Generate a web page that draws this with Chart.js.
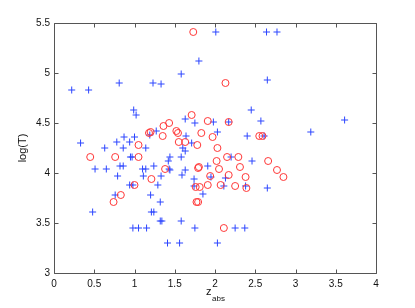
<!DOCTYPE html>
<html>
<head>
<meta charset="utf-8">
<script src="https://cdn.jsdelivr.net/npm/chart.js"></script>
<style>
  html, body { margin: 0; padding: 0; background: #fff; }
  #wrap { width: 415px; height: 308px; }
</style>
</head>
<body>
<div id="wrap"><canvas id="scatter"></canvas></div>
<script>
// axis ticks
const xTickValues = [0, 0.5, 1, 1.5, 2, 2.5, 3, 3.5, 4];
const yTickValues = [3, 3.5, 4, 4.5, 5, 5.5];

// blue "+" series
const plusX = [0.22, 0.43, 0.81, 1.23, 1.33, 1.58, 1.80, 2.01, 2.64, 2.77,
  0.99, 1.02, 2.65, 2.45, 3.61, 2.57, 2.17, 3.19, 2.61, 2.40,
  2.03, 1.98, 1.63, 1.75, 0.33, 0.63, 0.78, 0.87, 0.86, 0.94,
  1.00, 1.14, 1.19, 0.95, 0.97, 0.51, 0.65, 0.82, 0.86, 0.79,
  1.10, 1.14, 1.11, 0.94, 0.98, 1.24, 0.76, 0.48, 0.98, 1.05,
  1.15, 1.41, 1.56, 2.03, 1.20, 1.32, 1.21, 1.24, 1.32, 1.34,
  1.58, 1.75, 1.29, 1.33, 1.44, 1.42, 1.43, 1.44, 1.58, 1.59,
  1.63, 1.60, 1.63, 1.71, 1.91, 1.74, 1.85, 1.95, 1.27, 1.64,
  2.20, 2.13, 1.74, 2.11, 2.38, 2.46, 2.65, 2.25, 2.37];
const plusY = [4.83, 4.83, 4.90, 4.90, 4.89, 4.99, 5.12, 5.41, 5.41, 5.41,
  4.63, 4.58, 4.93, 4.63, 4.53, 4.52, 4.51, 4.41, 4.37, 4.37,
  4.41, 4.51, 4.54, 4.50, 4.30, 4.25, 4.31, 4.36, 4.25, 4.31,
  4.36, 4.25, 4.38, 4.16, 4.16, 4.04, 4.04, 4.07, 4.07, 3.97,
  4.04, 4.04, 3.97, 3.88, 3.88, 4.07, 3.78, 3.61, 3.45, 3.45,
  3.45, 3.30, 3.30, 3.30, 3.78, 3.71, 3.61, 3.61, 3.52, 3.52,
  3.52, 3.45, 3.88, 3.97, 4.16, 4.12, 4.04, 4.03, 4.16, 3.98,
  4.03, 4.25, 4.22, 4.30, 4.07, 3.94, 3.79, 3.96, 4.42, 4.37,
  4.16, 3.95, 3.87, 3.87, 3.87, 4.12, 3.85, 3.45, 3.45];

// red "o" series
const circleX = [1.73, 2.13, 1.71, 2.17, 2.55, 2.59, 1.97, 0.45, 0.76, 1.05,
  1.18, 1.20, 1.05, 1.21, 1.00, 0.83, 0.74, 1.35, 1.38, 1.55,
  1.63, 1.78, 1.79, 2.03, 2.02, 1.76, 1.81, 1.91, 1.94, 1.77,
  1.79, 1.91, 1.36, 1.43, 1.52, 1.54, 1.83, 2.15, 2.29, 1.80,
  2.05, 2.31, 2.38, 2.07, 2.25, 2.39, 2.66, 2.77, 2.85, 2.11,
  2.17];
const circleY = [5.41, 4.90, 4.58, 4.51, 4.37, 4.37, 4.36, 4.16, 4.16, 4.28,
  4.40, 4.41, 4.16, 3.94, 3.88, 3.78, 3.71, 4.37, 4.04, 4.31,
  4.31, 4.28, 4.05, 4.25, 4.12, 3.86, 3.86, 3.88, 3.97, 3.71,
  3.71, 4.52, 4.47, 4.50, 4.42, 4.40, 4.40, 4.16, 4.16, 4.06,
  4.04, 4.06, 3.96, 3.88, 3.87, 3.85, 4.12, 4.03, 3.96, 3.45,
  3.98];

const FONT = '"Liberation Sans", Arial, sans-serif';

// box, inward ticks on all four sides and the axis titles, MATLAB style
const matlabAxes = {
  id: 'matlabAxes',
  afterDatasetsDraw(chart) {
    const { ctx, chartArea: a, scales: { x, y } } = chart;
    const L = Math.round(a.left) + 0.5, R = Math.round(a.right) + 0.5;
    const T = Math.round(a.top) + 0.5, B = Math.round(a.bottom) + 0.5;
    ctx.save();
    ctx.strokeStyle = '#555';
    ctx.lineWidth = 1;
    ctx.beginPath();
    ctx.rect(L, T, R - L, B - T);
    xTickValues.forEach(v => {
      const px = Math.round(x.getPixelForValue(v)) + 0.5;
      ctx.moveTo(px, B); ctx.lineTo(px, B - 4);
      ctx.moveTo(px, T); ctx.lineTo(px, T + 4);
    });
    yTickValues.forEach(v => {
      const py = Math.round(y.getPixelForValue(v)) + 0.5;
      ctx.moveTo(L, py); ctx.lineTo(L + 4, py);
      ctx.moveTo(R, py); ctx.lineTo(R - 4, py);
    });
    ctx.stroke();

    ctx.fillStyle = '#111';
    // x title: z with subscript abs
    ctx.textBaseline = 'alphabetic';
    ctx.textAlign = 'left';
    ctx.font = '11px ' + FONT;
    ctx.fillText('z', 206, 295);
    ctx.font = '8px ' + FONT;
    ctx.fillText('abs', 212, 301);
    // y title
    ctx.translate(23, (a.top + a.bottom) / 2);
    ctx.rotate(-Math.PI / 2);
    ctx.textAlign = 'center';
    ctx.textBaseline = 'middle';
    ctx.font = '11px ' + FONT;
    ctx.fillText('log(T)', 0, 0);
    ctx.restore();
  }
};

new Chart(document.getElementById('scatter'), {
  type: 'scatter',
  data: {
    datasets: [
      {
        label: 'o',
        data: circleX.map((v, i) => ({ x: v, y: circleY[i] })),
        pointStyle: 'circle',
        pointRadius: 3.5,
        pointBorderWidth: 1,
        borderColor: 'rgb(255,55,55)',
        backgroundColor: 'rgba(0,0,0,0)'
      },
      {
        label: '+',
        data: plusX.map((v, i) => ({ x: v, y: plusY[i] })),
        pointStyle: 'cross',
        pointRadius: 3.5,
        pointBorderWidth: 1,
        borderColor: 'rgb(45,70,255)',
        backgroundColor: 'rgba(0,0,0,0)'
      }
    ]
  },
  options: {
    responsive: true,
    maintainAspectRatio: false,
    animation: false,
    layout: { padding: { top: 23, right: 39, left: 0, bottom: 0 } },
    plugins: { legend: { display: false }, tooltip: { enabled: false } },
    scales: {
      x: {
        type: 'linear',
        min: 0, max: 4,
        afterBuildTicks: s => { s.ticks = xTickValues.map(v => ({ value: v })); },
        afterFit: s => { s.height = 35; },
        grid: { display: false, drawTicks: false },
        border: { display: false },
        ticks: { padding: 5, color: '#111', font: { family: FONT, size: 10 }, maxRotation: 0,
          callback: v => String(v) }
      },
      y: {
        type: 'linear',
        min: 3, max: 5.5,
        afterBuildTicks: s => { s.ticks = yTickValues.map(v => ({ value: v })); },
        afterFit: s => { s.width = 54; },
        grid: { display: false, drawTicks: false },
        border: { display: false },
        ticks: { padding: 4, color: '#111', font: { family: FONT, size: 10 },
          callback: v => String(v) }
      }
    }
  },
  plugins: [matlabAxes]
});
</script>
</body>
</html>
